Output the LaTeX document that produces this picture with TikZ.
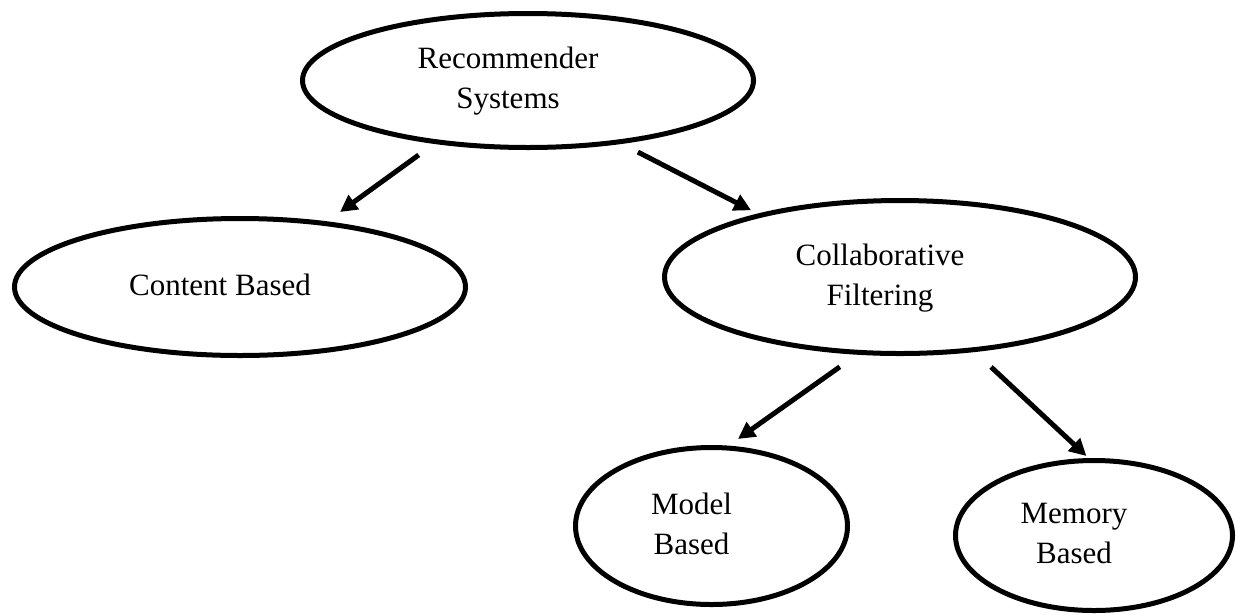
\documentclass[tikz,border=0pt]{standalone}
\usepackage{fontspec}
\setmainfont{Liberation Serif}
\usetikzlibrary{arrows.meta,shapes.geometric}
\newcommand{\ovaltext}[1]{\begin{tabular}{@{}c@{}}#1\end{tabular}\hspace*{40pt}}

\begin{document}
\begin{tikzpicture}[
    x=1pt, y=-1pt,
    oval/.style={draw, ellipse, line width=5pt, inner sep=0pt,
                 font=\fontsize{31}{40}\selectfont},
    arr/.style={-{Triangle[length=17pt,width=17pt]}, line width=5pt},
  ]
    \useasboundingbox (0,0) rectangle (1238,614);

    \node[oval, minimum width=451pt, minimum height=134pt] (A) at (528,80.5) {\ovaltext{Recommender\\Systems}};
    \node[oval, minimum width=451pt, minimum height=137pt] (B) at (240,287) {\ovaltext{Content Based}};
    \node[oval, minimum width=471pt, minimum height=153pt] (C) at (900,277) {\ovaltext{Collaborative\\Filtering}};
    \node[oval, minimum width=272pt, minimum height=157pt] (D) at (711.5,526) {\ovaltext{Model\\Based}};
    \node[oval, minimum width=277pt, minimum height=150pt] (E) at (1094,535.5) {\ovaltext{Memory\\Based}};

    \draw[arr, shorten <=19pt, shorten >=16pt] (A.214) -- (B.37);
    \draw[arr, shorten <=18pt, shorten >=7.5pt] (A.326) -- (C.156);
    \draw[arr, shorten <=21pt, shorten >=11.5pt] (C.241) -- (D.78);
    \draw[arr, shorten <=22pt, shorten >=3pt] (C.315) -- (E.94);
  \end{tikzpicture}
\end{document}
